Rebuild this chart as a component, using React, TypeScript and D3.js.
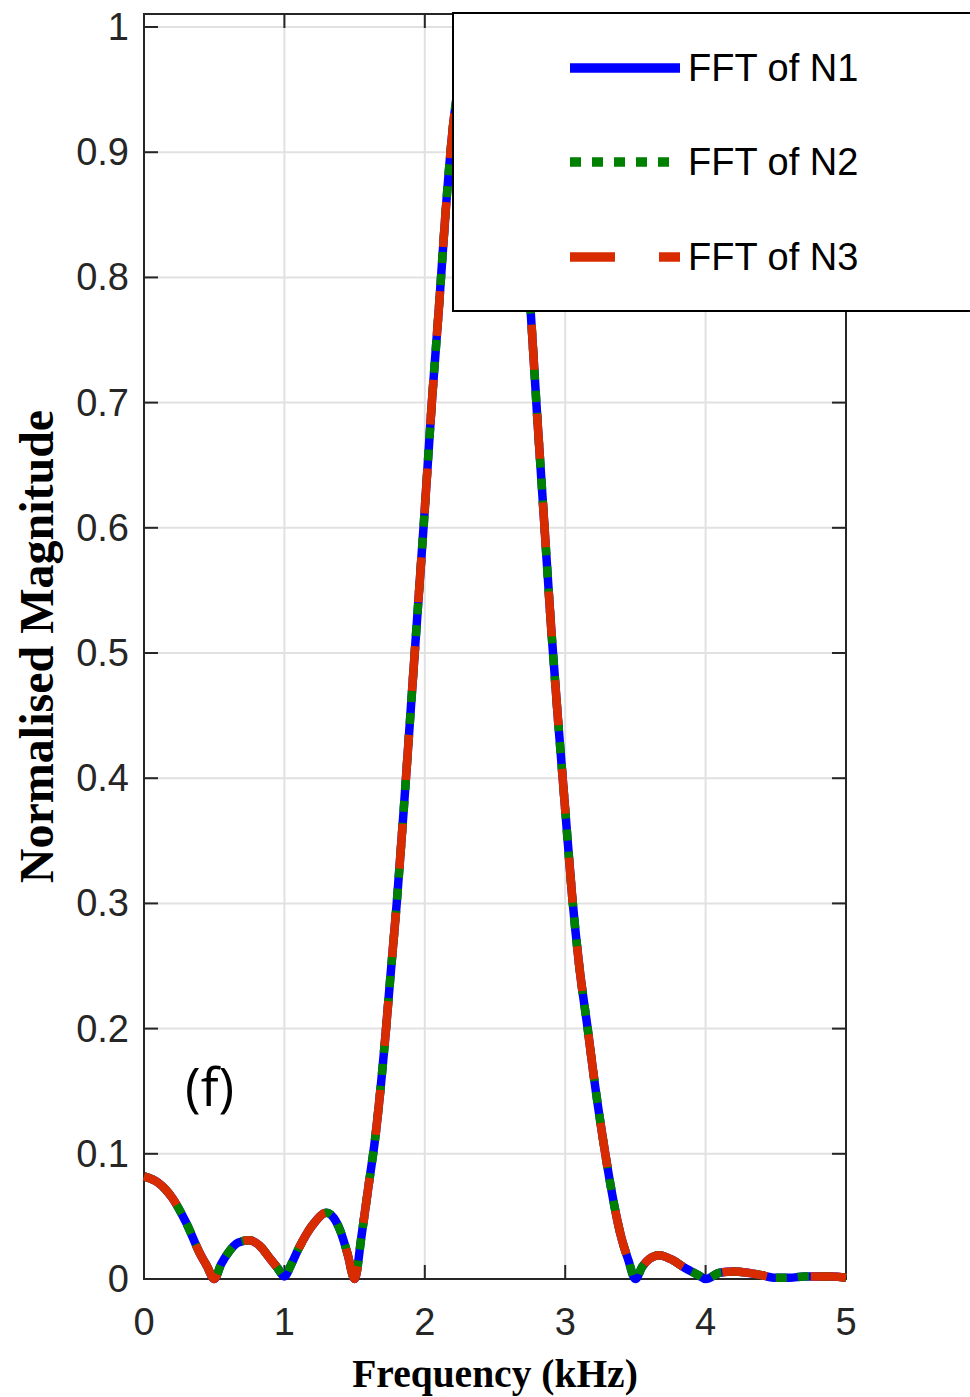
import React from "react";
import * as d3 from "d3";

const freq = [0, 0.1, 0.2, 0.3, 0.4, 0.45, 0.5, 0.55, 0.6, 0.67, 0.75, 0.82, 0.9, 0.95, 1.0, 1.05, 1.1, 1.2, 1.3, 1.35, 1.4, 1.45, 1.5, 1.55, 1.6, 1.645, 1.7, 1.724, 1.75, 1.8, 1.85, 1.9, 1.95, 2.0, 2.05, 2.1, 2.15, 2.2, 2.3, 2.42, 2.55, 2.65, 2.7, 2.75, 2.8, 2.85, 2.9, 2.95, 3.0, 3.05, 3.1, 3.16, 3.2, 3.27, 3.3, 3.4, 3.45, 3.5, 3.55, 3.6, 3.67, 3.75, 3.85, 3.95, 4.0, 4.1, 4.2, 4.3, 4.4, 4.5, 4.6, 4.7, 4.8, 4.9, 5.0];
const magN1 = [0.082, 0.077, 0.065, 0.045, 0.02, 0.01, 0.0, 0.012, 0.021, 0.029, 0.031, 0.027, 0.016, 0.009, 0.002, 0.012, 0.024, 0.043, 0.053, 0.049, 0.038, 0.02, 0.0, 0.035, 0.075, 0.111, 0.17, 0.2, 0.235, 0.3, 0.375, 0.455, 0.535, 0.615, 0.7, 0.775, 0.855, 0.92, 0.98, 1.0, 0.97, 0.905, 0.855, 0.78, 0.69, 0.605, 0.52, 0.445, 0.375, 0.305, 0.25, 0.2, 0.165, 0.111, 0.09, 0.033, 0.015, 0.0, 0.01, 0.016, 0.019, 0.016, 0.009, 0.003, 0.0, 0.005, 0.006, 0.005, 0.003, 0.001, 0.001, 0.002, 0.002, 0.002, 0.001];
const magN2 = magN1.slice();
const magN3 = magN1.slice();

const xTicks = [0, 1, 2, 3, 4, 5];
const yTicks = [0, 0.1, 0.2, 0.3, 0.4, 0.5, 0.6, 0.7, 0.8, 0.9, 1];
const seriesNames = ["FFT of N1", "FFT of N2", "FFT of N3"];
const seriesColors = ["#0000ff", "#008000", "#d92b00"];
const seriesDash = ["none", "11 11", "45 44"];

export default function App() {
  const W = 970, H = 1397;
  const left = 144, right = 846, top = 14, bottom = 1279;
  const x = d3.scaleLinear().domain([0, 5]).range([left, right]);
  const y = d3.scaleLinear().domain([0, 1.0104]).range([bottom, top]);
  const line = d3
    .line<number>()
    .x((_, i) => x(freq[i]))
    .y((d) => y(d))
    .curve(d3.curveMonotoneX);
  const all = [magN1, magN2, magN3];
  const axisColor = "#262626";
  const gridColor = "#e1e1e1";
  const tickLen = 14;
  const font = "'Liberation Sans', Arial, Helvetica, sans-serif";
  const legendRows = [68, 162, 257];

  return (
    <svg width={W} height={H} style={{ position: "absolute", left: 0, top: 0, background: "#fff" }}>
      <rect x={0} y={0} width={W} height={H} fill="#fff" />
      {xTicks.map((t) => (
        <line key={"gx" + t} x1={x(t)} x2={x(t)} y1={top} y2={bottom} stroke={gridColor} strokeWidth={2} />
      ))}
      {yTicks.map((t) => (
        <line key={"gy" + t} x1={left} x2={right} y1={y(t)} y2={y(t)} stroke={gridColor} strokeWidth={2} />
      ))}
      {xTicks.map((t) => (
        <g key={"tx" + t}>
          <line x1={x(t)} x2={x(t)} y1={bottom} y2={bottom - tickLen} stroke={axisColor} strokeWidth={2} />
          <line x1={x(t)} x2={x(t)} y1={top} y2={top + tickLen} stroke={axisColor} strokeWidth={2} />
          <text x={x(t)} y={1335} textAnchor="middle" fontFamily={font} fontSize={38} fill={axisColor}>
            {t}
          </text>
        </g>
      ))}
      {yTicks.map((t) => (
        <g key={"ty" + t}>
          <line x1={left} x2={left + tickLen} y1={y(t)} y2={y(t)} stroke={axisColor} strokeWidth={2} />
          <line x1={right} x2={right - tickLen} y1={y(t)} y2={y(t)} stroke={axisColor} strokeWidth={2} />
          <text x={129} y={y(t) + 13} textAnchor="end" fontFamily={font} fontSize={38} fill={axisColor}>
            {t}
          </text>
        </g>
      ))}
      <rect x={left} y={top} width={right - left} height={bottom - top} fill="none" stroke={axisColor} strokeWidth={2} />
      {all.map((s, i) => (
        <path
          key={"s" + i}
          d={line(s) || ""}
          fill="none"
          stroke={seriesColors[i]}
          strokeWidth={8.5}
          strokeDasharray={seriesDash[i]}
          strokeLinejoin="round"
        />
      ))}
      <rect x={453} y={13} width={540} height={298} fill="#fff" stroke="#000" strokeWidth={2} />
      {seriesNames.map((n, i) => (
        <g key={"lg" + i}>
          <line
            x1={570}
            x2={680}
            y1={legendRows[i]}
            y2={legendRows[i]}
            stroke={seriesColors[i]}
            strokeWidth={9.5}
            strokeDasharray={seriesDash[i]}
          />
          <text x={688} y={legendRows[i] + 13} fontFamily={font} fontSize={38} fill="#000">
            {n}
          </text>
        </g>
      ))}
      <text x={185} y={1106} fontFamily="'Open Sans', 'Noto Sans', sans-serif" fontSize={53} fill="#000">
        (f)
      </text>
      <text x={495} y={1387} textAnchor="middle" fontFamily="'Liberation Serif', 'Times New Roman', serif" fontWeight="bold" fontSize={39.5} fill="#000">
        Frequency (kHz)
      </text>
      <text
        transform={`translate(53, ${(top + bottom) / 2}) rotate(-90)`}
        textAnchor="middle"
        fontFamily="'Liberation Serif', 'Times New Roman', serif"
        fontWeight="bold"
        fontSize={48}
        fill="#000"
      >
        Normalised Magnitude
      </text>
    </svg>
  );
}
